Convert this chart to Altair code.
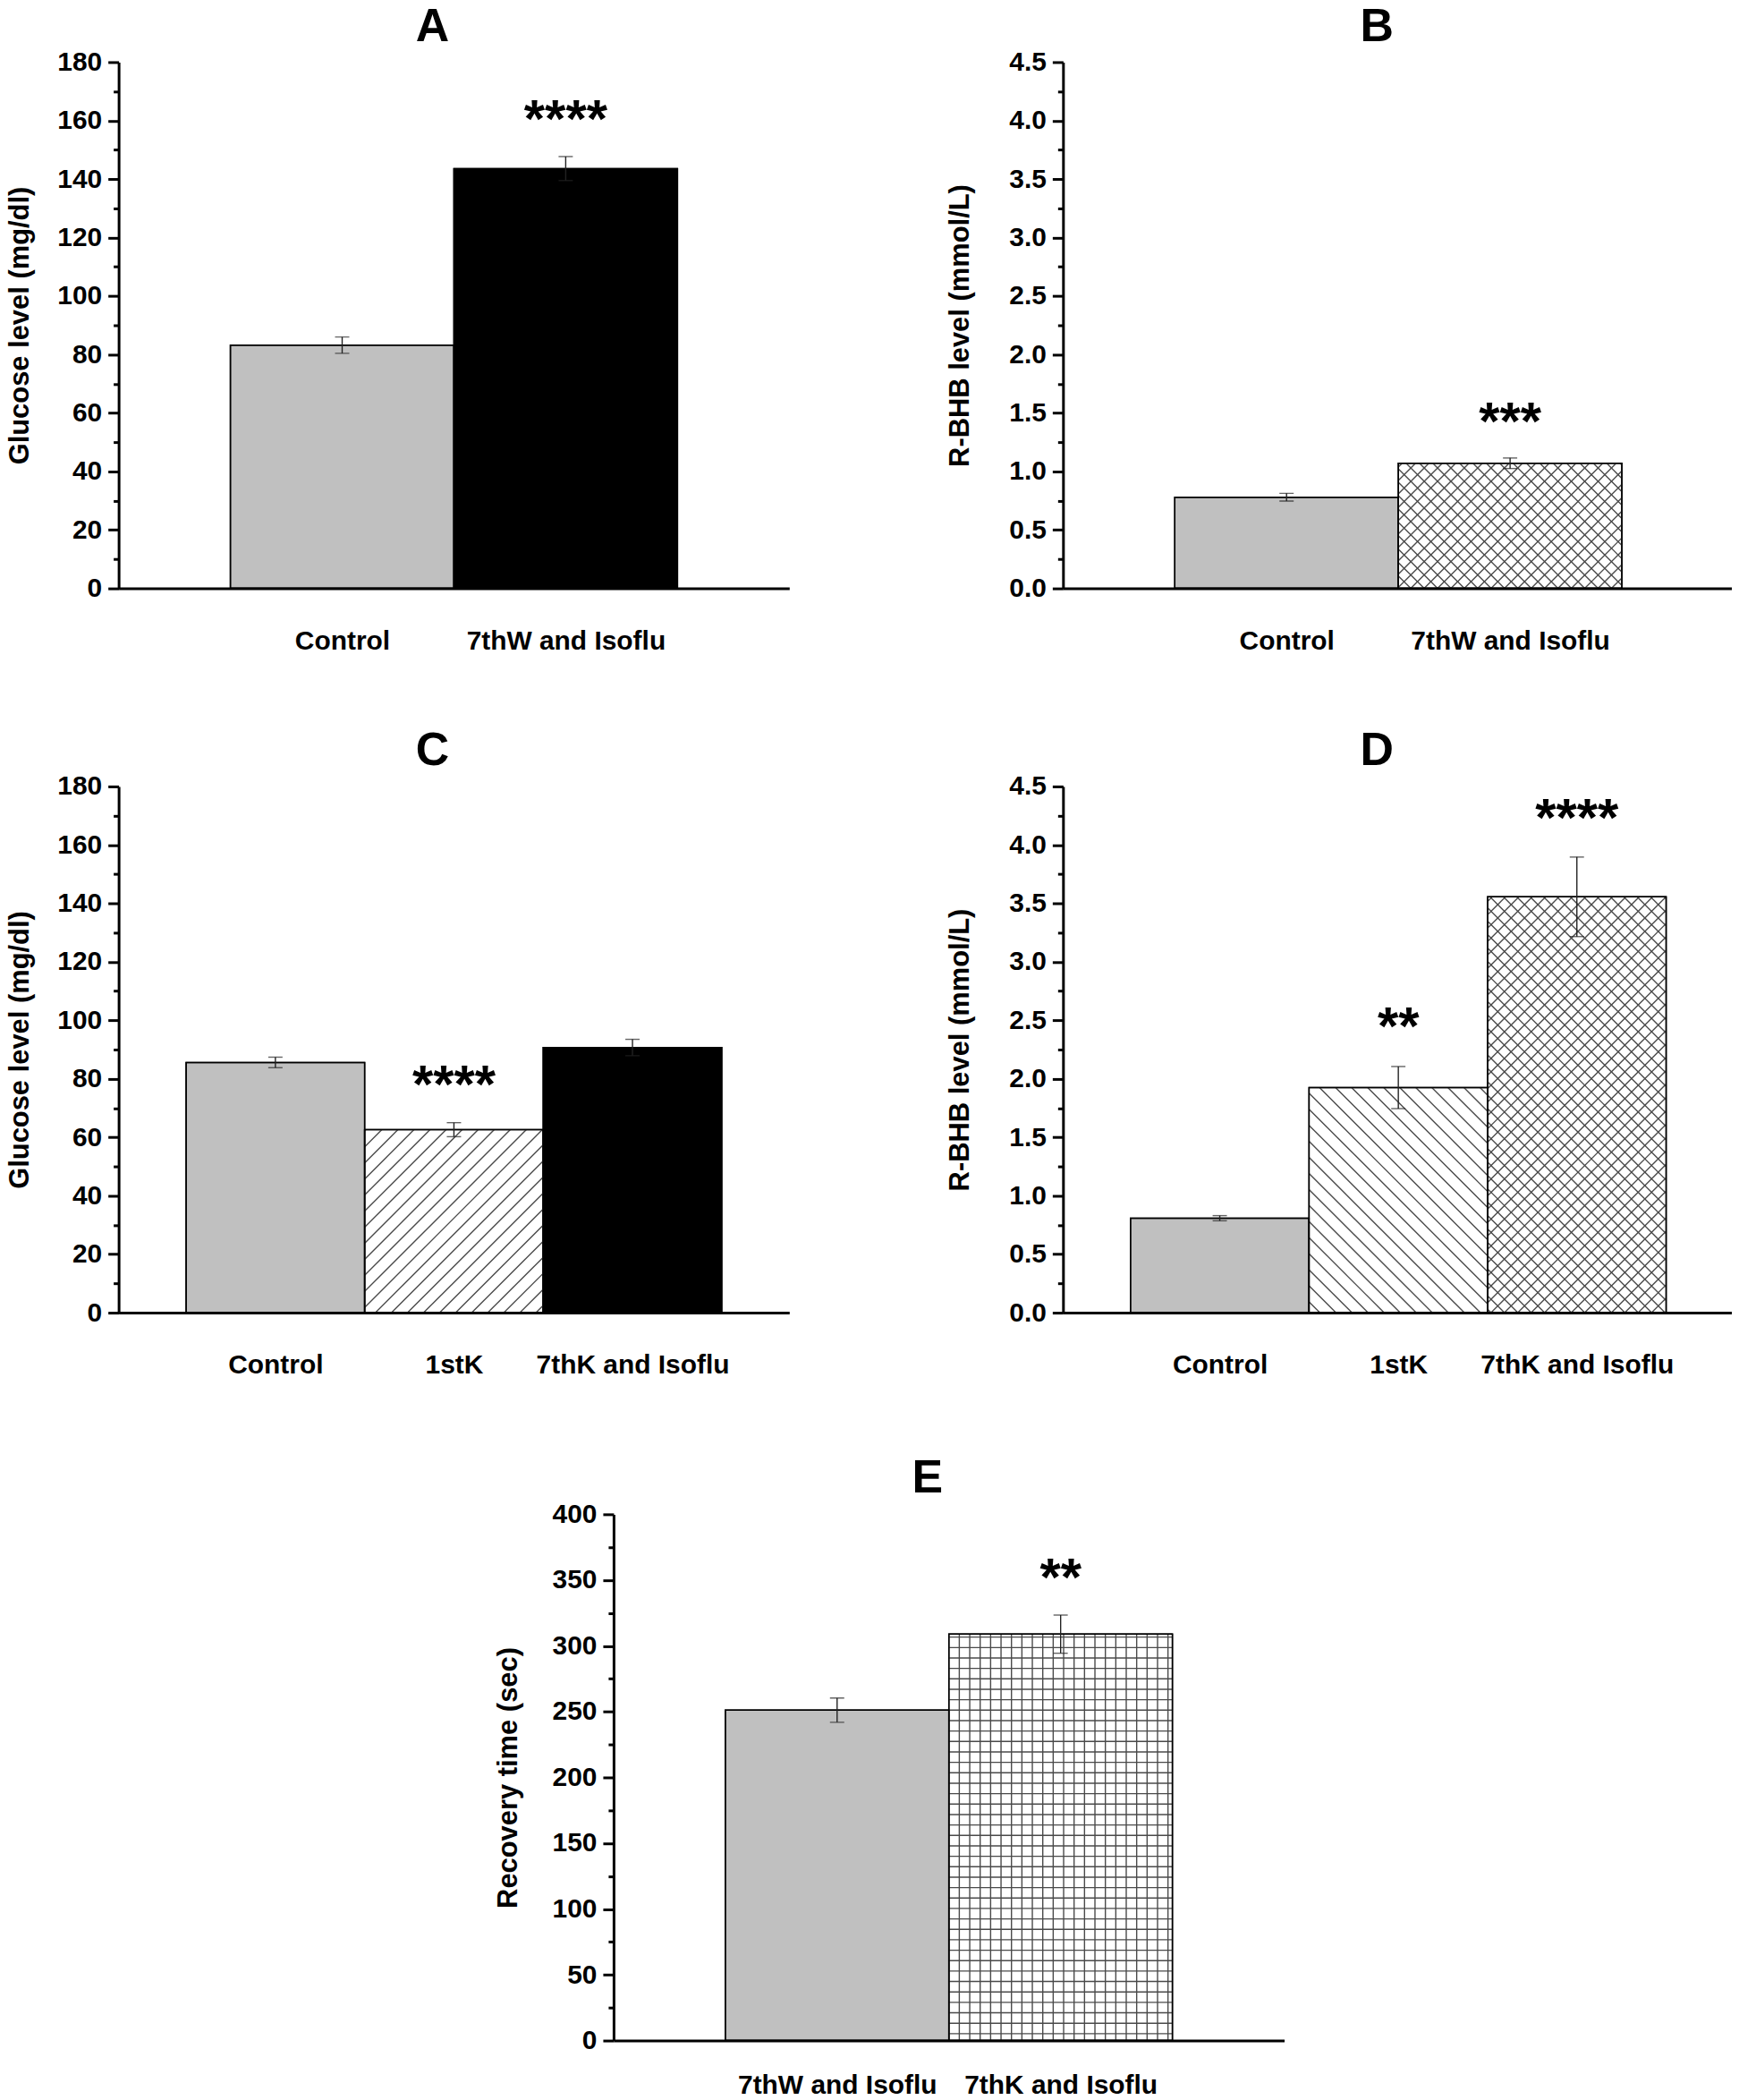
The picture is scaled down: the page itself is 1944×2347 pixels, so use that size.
import json
import math
import pandas as pd
import altair as alt

FONT = "Liberation Sans"
W, H = 752, 590

# ---------------- values ----------------
A_groups = ["Control", "7thW and Isoflu"]
A_mean = [83.2, 143.6]
A_err = [2.8, 4.1]
A_stars = ["", "****"]
A_star_y = [0.0, 163.0]

B_groups = ["Control", "7thW and Isoflu"]
B_mean = [0.78, 1.07]
B_err = [0.033, 0.045]
B_stars = ["", "***"]
B_star_y = [0.0, 1.49]

C_groups = ["Control", "1stK", "7thK and Isoflu"]
C_mean = [85.6, 62.6, 90.7]
C_err = [1.8, 2.4, 2.8]
C_stars = ["", "****", ""]
C_star_y = [0.0, 80.4, 0.0]

D_groups = ["Control", "1stK", "7thK and Isoflu"]
D_mean = [0.808, 1.925, 3.556]
D_err = [0.022, 0.18, 0.34]
D_stars = ["", "**", "****"]
D_star_y = [0.0, 2.51, 4.29]

E_groups = ["7thW and Isoflu", "7thK and Isoflu"]
E_mean = [251.1, 308.9]
E_err = [9.2, 14.5]
E_stars = ["", "**"]
E_star_y = [0.0, 357.4]

# ---------------- styles ----------------
A_style = ["gray", "solid"]
B_style = ["gray", "cross"]
C_style = ["gray", "fwd", "solid"]
D_style = ["gray", "back", "cross"]
E_style = ["gray", "grid"]

FILL = {"gray": "#c0c0c0", "solid": "#000000", "fwd": "#ffffff",
        "back": "#ffffff", "cross": "#ffffff", "grid": "#ffffff"}
SPACING = {"fwd": 18.0, "back": 18.0, "cross": 15.0, "grid": 11.7}
HATCH_COLOR = "#4a4a4a"
ERR_COLOR = "#222222"


def diag(p0, p1, hp, s, sign):
    segs = []
    if sign > 0:
        bmin, bmax = -p1, hp - p0
    else:
        bmin, bmax = p0, p1 + hp
    k = math.ceil(bmin / s)
    while k * s <= bmax:
        b = k * s
        if sign > 0:
            lo, hi = max(p0, -b), min(p1, hp - b)
            if hi - lo > 0.5:
                segs.append((lo, lo + b, hi, hi + b))
        else:
            lo, hi = max(p0, b - hp), min(p1, b)
            if hi - lo > 0.5:
                segs.append((lo, b - lo, hi, b - hi))
        k += 1
    return segs


def hatch_df(x0s, x1s, tops, styles, xdom, ymax):
    kx = W / (xdom[1] - xdom[0])
    ky = H / ymax
    rows = []
    for x0, x1, top, st in zip(x0s, x1s, tops, styles):
        if st not in SPACING:
            continue
        s = SPACING[st]
        p0 = (x0 - xdom[0]) * kx
        p1 = (x1 - xdom[0]) * kx
        hp = top * ky
        segs = []
        if st in ("fwd", "cross"):
            segs += diag(p0, p1, hp, s, +1)
        if st in ("back", "cross"):
            segs += diag(p0, p1, hp, s, -1)
        if st == "grid":
            px = p0 + s
            while px < p1 - 1:
                segs.append((px, 0.0, px, hp))
                px += s
            u = 7.7
            while u < hp - 1:
                segs.append((p0, u, p1, u))
                u += s
        for (a, b, c, d) in segs:
            rows.append({"xa": a / kx + xdom[0], "ya": b / ky,
                         "xb": c / kx + xdom[0], "yb": d / ky})
    return pd.DataFrame(rows)


def panel(letter, groups, mean, err, stars, star_y, styles, ymax, major,
          minor, fmt, ytitle, xdom, title_x, xlab_pad=44):
    n = len(groups)
    pos = list(range(1, n + 1))
    x0s = [p - 0.5 for p in pos]
    x1s = [p + 0.5 for p in pos]
    lo = [m - e for m, e in zip(mean, err)]
    hi = [m + e for m, e in zip(mean, err)]
    bars = pd.DataFrame({"pos": pos, "x0": x0s, "x1": x1s, "mean": mean,
                         "base": [0.0] * n, "lo": lo, "hi": hi,
                         "fill": [FILL[s] for s in styles]})
    caps = pd.DataFrame({"pos": pos + pos, "y": lo + hi})
    st = pd.DataFrame({"pos": pos, "txt": stars, "y": star_y})
    st = st[st["txt"] != ""]
    hatch = hatch_df(x0s, x1s, mean, styles, xdom, ymax)

    xs = alt.Scale(domain=list(xdom), nice=False, zero=False)
    ys = alt.Scale(domain=[0, ymax], nice=False, zero=False)
    xaxis = alt.Axis(values=pos,
                     labelExpr=json.dumps([""] + groups) + "[datum.value]",
                     ticks=False, tickSize=0, labelPadding=xlab_pad, labelLimit=600,
                     domainWidth=3, domainColor="black",
                     labelFont=FONT, labelFontSize=30, labelFontWeight="bold",
                     labelColor="black", grid=False, labelFlush=False,
                     labelOverlap=False, zindex=1)
    nt = int(round(ymax / minor))
    yvals = [round(i * minor, 6) for i in range(nt + 1)]
    test = f"abs(datum.value / {major} - round(datum.value / {major})) < 0.001"
    yaxis = alt.Axis(values=yvals, format=fmt,
                     labelExpr=f"{test} ? datum.label : ''",
                     tickSize={"condition": {"test": test, "value": 12}, "value": 6},
                     tickWidth=3, tickColor="black",
                     domainWidth=3, domainColor="black",
                     labelPadding=7, labelFont=FONT, labelFontSize=30,
                     labelFontWeight="bold", labelColor="black",
                     titleFont=FONT, titleFontSize=31, titleFontWeight="bold",
                     titleColor="black", titleX=title_x,
                     grid=False, labelOverlap=False, labelFlush=False,
                     zindex=1)

    def X(f):
        return alt.X(f"{f}:Q", scale=xs, axis=xaxis, title=None)

    def Y(f):
        return alt.Y(f"{f}:Q", scale=ys, axis=yaxis, title=ytitle)

    layers = [
        alt.Chart(bars).mark_bar(stroke="black", strokeWidth=1.5).encode(
            x=X("x0"), x2="x1", y=Y("mean"), y2="base",
            fill=alt.Fill("fill:N", scale=None)),
    ]
    if len(hatch):
        layers.append(
            alt.Chart(hatch).mark_rule(color=HATCH_COLOR, strokeWidth=1.4).encode(
                x=X("xa"), x2="xb", y=Y("ya"), y2="yb"))
    layers += [
        alt.Chart(bars).mark_bar(fill="transparent", stroke="black",
                                 strokeWidth=1.5).encode(
            x=X("x0"), x2="x1", y=Y("mean"), y2="base"),
        alt.Chart(bars).mark_rule(color=ERR_COLOR, strokeWidth=1.4).encode(
            x=X("pos"), y=Y("lo"), y2="hi"),
        alt.Chart(caps).mark_tick(orient="horizontal", size=16, thickness=1.4,
                                  color=ERR_COLOR).encode(
            x=X("pos"), y=Y("y")),
        alt.Chart(st).mark_text(font=FONT, fontSize=60, fontWeight="bold",
                                color="black", baseline="middle", dy=10).encode(
            x=X("pos"), y=Y("y"), text="txt:N"),
    ]
    return alt.layer(*layers).properties(
        width=W, height=H,
        title=alt.TitleParams(letter, font=FONT, fontSize=52, fontWeight="bold",
                              color="black", anchor="middle", dx=-24, offset=0,
                              dy=2))


XD2 = (0.0, 3.0)
XD3 = (0.122, 3.878)

pA = panel("A", A_groups, A_mean, A_err, A_stars, A_star_y, A_style, 180, 20, 10,
           "d", "Glucose level (mg/dl)", XD2, -94)
pB = panel("B", B_groups, B_mean, B_err, B_stars, B_star_y, B_style, 4.5, 0.5, 0.25,
           ".1f", "R-BHB level (mmol/L)", XD2, -99)
pC = panel("C", C_groups, C_mean, C_err, C_stars, C_star_y, C_style, 180, 20, 10,
           "d", "Glucose level (mg/dl)", XD3, -94)
pD = panel("D", D_groups, D_mean, D_err, D_stars, D_star_y, D_style, 4.5, 0.5, 0.25,
           ".1f", "R-BHB level (mmol/L)", XD3, -99)
pE = panel("E", E_groups, E_mean, E_err, E_stars, E_star_y, E_style, 400, 50, 25,
           "d", "Recovery time (sec)", XD2, -102, xlab_pad=35)

COL_GAP = 307
top_grid = alt.concat(
    pA, pB, pC, pD,
    columns=2, spacing={"row": 222, "column": COL_GAP}, bounds="flush",
)

spacer = alt.Chart(pd.DataFrame({"v": [0]})).mark_point(opacity=0).encode(
    x=alt.X("v:Q", axis=None), y=alt.Y("v:Q", axis=None)
).properties(width=376, height=H)
bottom_row = alt.hconcat(spacer, pE, spacing=45)

chart = alt.vconcat(
    top_grid, bottom_row, spacing=86,
    padding={"left": -1, "top": -8, "right": -2, "bottom": -7},
).configure(font=FONT).configure_view(strokeWidth=0, stroke="transparent")

chart.save("out.html", embed_options={"renderer": "svg", "actions": False})
